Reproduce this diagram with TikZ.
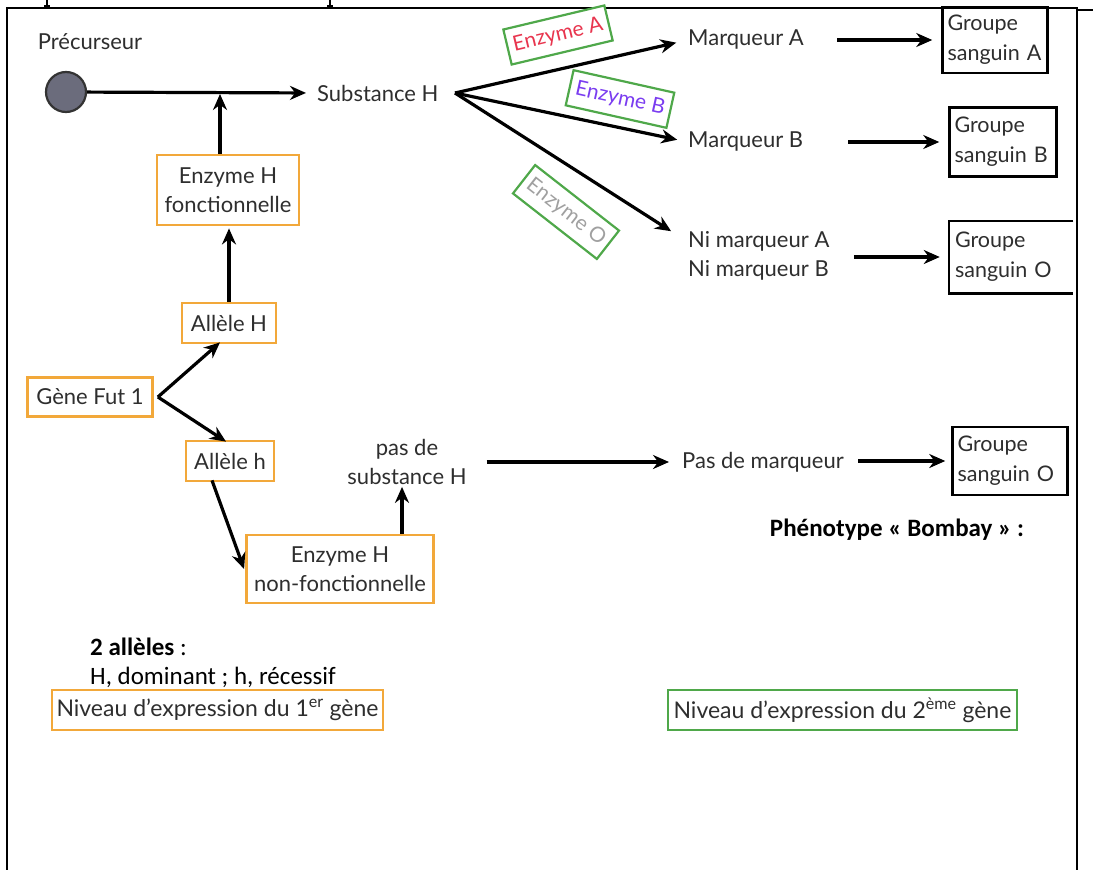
\documentclass[tikz,border=0pt]{standalone}
\usepackage{fontspec}
\setmainfont{Lato}
\newfontfamily\carl{Carlito}
\usetikzlibrary{arrows.meta,calc}
\definecolor{txt}{HTML}{2E2E2E}
\definecolor{orng}{HTML}{F2A83A}
\definecolor{grn}{HTML}{4FA84A}
\definecolor{enzAc}{HTML}{E8354E}
\definecolor{enzBc}{HTML}{7A3CF0}
\definecolor{enzOc}{HTML}{A0A0A0}
\definecolor{circfill}{HTML}{6B6C7C}
\begin{document}
\begin{tikzpicture}[x=1pt,y=-1pt,
  lbl/.style={text=txt, font=\fontsize{22}{29}\selectfont, inner sep=0pt, align=center},
  obox/.style={draw=orng, line width=2.8pt, fill=white, text=txt, font=\fontsize{22}{29}\selectfont, align=center, inner sep=0pt},
  gbox/.style={draw=black, line width=2.5pt, text=txt, font=\fontsize{21.5}{30}\selectfont, align=left, inner ysep=0pt, inner xsep=5pt},
  elab/.style={draw=grn, line width=2.2pt, font=\fontsize{21}{24}\selectfont, inner xsep=6pt, minimum height=36pt},
  arr/.style={line width=3.2pt, -{Stealth[length=16pt,width=14pt]}},
  note/.style={font=\carl\fontsize{25}{30}\selectfont, text=black, inner sep=0pt, anchor=west},
]
\useasboundingbox (0,0) rectangle (1093,870);
% frame
\draw[line width=2.2pt] (7,870) -- (7,8) -- (1077,8) -- (1077,870);
\draw[line width=1.5pt] (1077,10) -- (1093,10);
\draw[line width=2pt] (47,0) -- (47,7);
\draw[line width=1.5pt] (44,6) -- (50,6);
\draw[line width=2pt] (330,0) -- (330,7);
\draw[line width=1.5pt] (327,6) -- (333,6);

% top chain
\node[lbl] (prec) at (90,42) {Précurseur};
\node[circle, draw=black!80, line width=2.2pt, fill=circfill, minimum size=40pt, inner sep=0pt] (circ) at (66,92) {};
\node[lbl, anchor=west] (subH) at (317,93) {Substance H};
\coordinate (fork) at (455,93);
\draw[arr, shorten >=11pt] (circ) -- (subH.west);

\node[obox, minimum width=142pt, minimum height=70pt] (enzHf) at (228,190) {Enzyme H\\fonctionnelle};
\draw[arr, shorten >=2pt] ([xshift=-8pt]enzHf.north) -- ([xshift=-8pt]enzHf.north |- circ.east);

\node[obox, minimum width=94pt, minimum height=40pt] (alH) at (229,323) {Allèle H};
\draw[arr, shorten >=2pt] (alH.north) -- (alH.north |- enzHf.south);

\node[obox, minimum width=125pt, minimum height=39pt] (gene) at (90,397) {Gène Fut 1};
\node[obox, minimum width=88pt, minimum height=40pt] (alh) at (230,461) {Allèle h};
\draw[arr] ([xshift=4pt]gene.east) -- ([xshift=-9pt,yshift=2pt]alH.south);
\draw[arr] ([xshift=4pt]gene.east) -- ([xshift=-4pt,yshift=-2pt]alh.north);

\node[obox, minimum width=187pt, minimum height=68pt] (enzHn) at (340,569) {Enzyme H\\non-fonctionnelle};
\draw[arr] ([xshift=-18pt,yshift=2pt]alh.south) -- ([xshift=-1pt]enzHn.west);

\node[lbl] (pasH) at (407,462) {pas de\\substance H};
\draw[arr, shorten >=2pt] ([xshift=-5pt]pasH.south |- enzHn.north) -- ([xshift=-5pt]pasH.south);

\node[lbl, anchor=west] (pasM) at (682,462) {Pas de marqueur};
\node[gbox, text width=105pt, minimum height=68pt] (grpO2) at (1010,461) {Groupe\\sanguin O};
\draw[arr] ([xshift=20pt]pasH.east) -- ([xshift=-13pt]pasM.west);
\draw[arr] ([xshift=-93pt]grpO2.west) -- ([xshift=-6pt]grpO2.west);

\node[font=\carl\bfseries\fontsize{25}{30}\selectfont, inner sep=0pt] (pheno) at (897,530) {Phénotype « Bombay » :};

% branches
\node[lbl, anchor=west] (marqA) at (688,40) {Marqueur A};
\node[lbl, anchor=west] (marqB) at (688,142) {Marqueur B};
\node[lbl, anchor=west, align=left] (niAB) at (688,256) {Ni marqueur A\\Ni marqueur B};

\draw[arr, shorten >=12pt] (fork) -- (marqA.west);
\draw[arr, shorten >=11pt] (fork) -- (marqB.west);
\draw[arr, shorten >=20pt] (fork) -- ([yshift=14pt]niAB.west);

\node[elab, rotate=13.4, text=enzAc, fill=white] (labA) at (558,35) {Enzyme A};
\node[elab, rotate=-12.6, text=enzBc] (labB) at (620,99) {Enzyme B};
\node[elab, rotate=-38, text=enzOc] (labO) at (566,212) {Enzyme O};

\node[gbox, text width=95pt, minimum height=66pt] (grpA) at (995,40) {Groupe\\sanguin A};
\node[gbox, text width=97pt, minimum height=69pt] (grpB) at (1003,142) {Groupe\\sanguin B};
\node[gbox, draw=none, text width=112pt, minimum height=70pt] (grpO) at (1011,257) {Groupe\\sanguin O};
\draw[line width=2.5pt] (grpO.north east) -- (grpO.north west) -- (grpO.south west) -- (grpO.south east);

\draw[arr] ([xshift=-104pt]grpA.west) -- ([xshift=-9pt]grpA.west);
\draw[arr] ([xshift=-100pt]grpB.west) -- ([xshift=-9pt]grpB.west);
\draw[arr] ([xshift=-95pt]grpO.west) -- ([xshift=-9pt]grpO.west);

% notes
\node[note] (all2) at (90,647) {\textbf{2 allèles} :};
\node[note] (domrec) at (90,677) {H, dominant ; h, récessif};
\node[obox, line width=2.5pt, minimum width=331pt, minimum height=40pt, font=\fontsize{23}{25}\selectfont] (niv1) at (217.5,710) {Niveau d'expression du 1\textsuperscript{er} gène};
\node[obox, draw=grn, line width=2.8pt, minimum width=349pt, minimum height=40pt, font=\fontsize{23}{25}\selectfont] (niv2) at (842.5,710) {Niveau d'expression du 2\textsuperscript{ème} gène};
\end{tikzpicture}
\end{document}
